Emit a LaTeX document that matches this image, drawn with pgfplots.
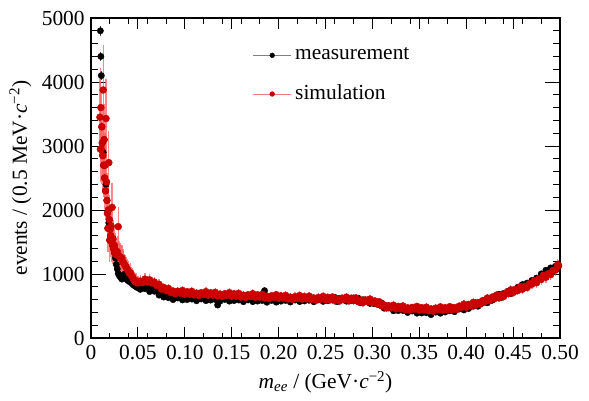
\documentclass[border=0pt]{standalone}
\usepackage{fontspec}
\setmainfont{Liberation Serif}
\usepackage{pgfplots}
\usepackage{pgfplotstable}
\pgfplotsset{compat=1.18}
\definecolor{dotred}{RGB}{204,0,0}
\definecolor{barred}{RGB}{255,95,95}
\definecolor{legred}{RGB}{240,120,120}

\pgfplotstableread{
x y e
0.0100 4800 80
0.0105 4400 75
0.0110 4100 75
0.0115 3300 70
0.0120 3050 65
0.0125 2850 65
0.0130 2900 60
0.0135 2700 60
0.0140 3100 55
0.0145 2500 55
0.0150 2700 55
0.0155 2300 50
0.0160 2400 50
0.0165 2440 50
0.0170 2150 45
0.0175 1950 45
0.0180 1714 45
0.0185 2000 45
0.0190 1800 45
0.0195 1850 40
0.0200 1530 40
0.0210 1600 40
0.0220 1500 40
0.0230 1450 40
0.0240 1400 40
0.0250 1330 35
0.0260 1250 35
0.0270 1150 35
0.0280 1080 35
0.0290 1010 35
0.0300 980 35
0.0310 960 35
0.0320 940 35
0.0330 920 35
0.0340 980 35
0.0350 950 35
0.0360 1000 35
0.0370 930 35
0.0380 960 35
0.0390 900 35
0.0400 920 35
0.0410 880 30
0.0420 900 30
0.0430 860 30
0.0440 870 30
0.0450 830 30
0.0460 850 30
0.0470 810 30
0.0480 830 30
0.0490 790 30
0.0500 810 30
0.0525 760 28
0.0550 815 28
0.0575 770 28
0.0600 800 28
0.0625 725 28
0.0650 765 28
0.0675 730 27
0.0700 740 27
0.0725 670 26
0.0750 690 26
0.0775 640 25
0.0800 665 25
0.0825 630 25
0.0850 668 25
0.0875 600 25
0.0900 647 25
0.0925 625 25
0.0950 648 25
0.0975 595 25
0.1000 632 25
0.1025 600 25
0.1050 644 25
0.1075 608 25
0.1100 648 25
0.1125 582 25
0.1150 631 25
0.1175 610 25
0.1200 635 25
0.1225 584 25
0.1250 623 25
0.1275 592 25
0.1300 636 25
0.1325 601 25
0.1350 515 25
0.1375 574 25
0.1400 623 25
0.1425 603 25
0.1450 627 25
0.1475 576 25
0.1500 615 25
0.1525 585 25
0.1550 629 25
0.1575 593 25
0.1600 632 25
0.1625 567 25
0.1650 616 25
0.1675 595 25
0.1700 619 25
0.1725 568 25
0.1750 608 25
0.1775 577 25
0.1800 621 25
0.1825 585 25
0.1850 740 25
0.1875 559 25
0.1900 608 25
0.1925 587 25
0.1950 612 25
0.1975 561 25
0.2000 600 25
0.2025 576 25
0.2050 621 25
0.2075 587 25
0.2100 627 25
0.2125 562 25
0.2150 613 25
0.2175 593 25
0.2200 618 25
0.2225 569 25
0.2250 609 25
0.2275 579 25
0.2300 625 25
0.2325 590 25
0.2350 630 25
0.2375 566 25
0.2400 616 25
0.2425 596 25
0.2450 622 25
0.2475 572 25
0.2500 612 25
0.2525 583 25
0.2550 628 25
0.2575 593 25
0.2600 634 25
0.2625 569 25
0.2650 619 25
0.2675 600 25
0.2700 625 25
0.2725 575 25
0.2750 614 25
0.2775 583 25
0.2800 627 25
0.2825 585 25
0.2850 621 25
0.2875 552 25
0.2900 598 25
0.2925 574 25
0.2950 595 25
0.2975 540 25
0.3000 575 25
0.3025 535 24
0.3050 566 24
0.3075 518 24
0.3100 544 24
0.3125 466 23
0.3150 502 23
0.3175 469 23
0.3200 480 23
0.3225 425 22
0.3250 461 22
0.3275 428 22
0.3300 469 22
0.3325 430 22
0.3350 467 22
0.3375 398 21
0.3400 444 21
0.3425 421 21
0.3450 442 21
0.3475 388 21
0.3500 425 21
0.3525 391 21
0.3550 432 21
0.3575 394 21
0.3600 430 21
0.3625 365 21
0.3650 419 21
0.3675 404 21
0.3700 433 21
0.3725 387 21
0.3750 431 21
0.3775 406 21
0.3800 455 21
0.3825 425 21
0.3850 471 22
0.3875 411 22
0.3900 467 22
0.3925 453 22
0.3950 484 22
0.3975 439 22
0.4000 485 22
0.4025 460 22
0.4050 518 23
0.4075 496 23
0.4100 549 23
0.4125 496 23
0.4150 559 24
0.4175 552 24
0.4200 590 24
0.4225 550 24
0.4250 605 25
0.4275 589 25
0.4300 649 26
0.4325 628 26
0.4350 683 26
0.4375 632 26
0.4400 697 27
0.4425 691 27
0.4450 731 27
0.4475 695 27
0.4500 750 28
0.4525 730 28
0.4550 794 28
0.4575 777 28
0.4600 836 29
0.4625 789 29
0.4650 858 29
0.4675 856 29
0.4700 900 30
0.4725 870 30
0.4750 936 31
0.4775 931 31
0.4800 1002 32
0.4825 993 32
0.4850 1059 33
0.4875 1019 33
0.4900 1095 33
0.4925 1085 33
0.4950 1120 34
0.4975 1080 34
0.4985 1130 34
}\meas

\pgfplotstableread{
x y e
0.0095 3450 600
0.0100 2950 520
0.0105 3600 620
0.0110 2950 540
0.0115 3300 580
0.0120 3050 560
0.0125 2850 520
0.0130 3875 700
0.0135 2700 500
0.0140 3100 560
0.0145 2500 480
0.0150 2700 500
0.0155 2300 450
0.0160 3430 620
0.0165 2440 470
0.0170 2150 430
0.0175 1950 400
0.0180 1714 370
0.0185 2000 400
0.0190 2740 500
0.0195 1850 380
0.0200 1530 340
0.0205 1700 350
0.0210 1600 330
0.0215 1750 340
0.0220 1500 310
0.0225 2040 380
0.0230 1450 300
0.0235 1550 300
0.0240 1400 280
0.0250 1450 280
0.0255 1330 260
0.0260 1380 260
0.0270 1300 250
0.0280 1350 250
0.0290 1740 300
0.0300 1280 230
0.0310 1260 220
0.0320 1240 210
0.0330 1250 210
0.0340 1190 200
0.0350 1170 190
0.0360 1140 180
0.0370 1120 180
0.0380 1090 170
0.0390 1070 170
0.0400 1040 160
0.0410 1010 150
0.0420 1020 150
0.0430 975 140
0.0440 960 140
0.0450 930 130
0.0460 900 130
0.0470 880 120
0.0480 895 120
0.0490 865 110
0.0500 860 110
0.0525 890 90
0.0550 865 90
0.0575 920 90
0.0600 875 90
0.0625 910 90
0.0650 860 85
0.0675 875 85
0.0700 820 80
0.0725 840 80
0.0750 765 75
0.0775 790 75
0.0800 740 70
0.0825 775 70
0.0850 710 70
0.0875 733 70
0.0900 692 65
0.0925 732 65
0.0950 702 65
0.0975 743 65
0.1000 685 65
0.1025 723 65
0.1050 686 65
0.1075 730 65
0.1100 673 65
0.1125 702 65
0.1150 665 65
0.1175 708 65
0.1200 682 65
0.1225 725 65
0.1250 668 65
0.1275 707 65
0.1300 670 65
0.1325 714 65
0.1350 657 65
0.1375 685 65
0.1400 649 65
0.1425 692 65
0.1450 666 65
0.1475 709 65
0.1500 652 65
0.1525 691 65
0.1550 654 65
0.1575 698 65
0.1600 641 65
0.1625 669 65
0.1650 633 65
0.1675 676 65
0.1700 650 65
0.1725 693 65
0.1750 636 65
0.1775 675 65
0.1800 638 65
0.1825 682 65
0.1850 625 65
0.1875 653 65
0.1900 617 65
0.1925 660 65
0.1950 634 65
0.1975 677 65
0.2000 620 65
0.2025 659 65
0.2050 623 65
0.2075 666 65
0.2100 610 65
0.2125 639 65
0.2150 603 65
0.2175 646 65
0.2200 620 65
0.2225 664 65
0.2250 608 65
0.2275 646 65
0.2300 610 65
0.2325 654 65
0.2350 598 65
0.2375 626 65
0.2400 590 65
0.2425 634 65
0.2450 608 65
0.2475 651 65
0.2500 595 65
0.2525 634 65
0.2550 598 65
0.2575 641 65
0.2600 585 65
0.2625 614 65
0.2650 578 65
0.2675 621 65
0.2700 595 65
0.2725 639 65
0.2750 583 65
0.2775 621 65
0.2800 585 65
0.2825 626 65
0.2850 567 65
0.2875 593 65
0.2900 554 65
0.2925 595 65
0.2950 566 65
0.2975 608 65
0.3000 550 65
0.3025 580 60
0.3050 533 60
0.3075 566 60
0.3100 499 60
0.3125 517 58
0.3150 470 58
0.3175 505 58
0.3200 470 58
0.3225 513 58
0.3250 456 58
0.3275 494 58
0.3300 457 58
0.3325 500 58
0.3350 443 58
0.3375 472 58
0.3400 435 58
0.3425 478 58
0.3450 451 58
0.3475 494 58
0.3500 437 58
0.3525 475 58
0.3550 438 58
0.3575 482 58
0.3600 425 58
0.3625 455 58
0.3650 420 58
0.3675 466 58
0.3700 442 58
0.3725 487 58
0.3750 433 58
0.3775 474 58
0.3800 440 58
0.3825 490 58
0.3850 441 58
0.3875 476 58
0.3900 447 58
0.3925 498 58
0.3950 479 58
0.3975 529 60
0.4000 480 60
0.4025 525 60
0.4050 501 60
0.4075 556 62
0.4100 512 62
0.4125 553 62
0.4150 529 62
0.4175 584 64
0.4200 570 64
0.4225 625 64
0.4250 583 65
0.4275 635 66
0.4300 613 66
0.4325 671 68
0.4350 628 68
0.4375 671 70
0.4400 649 70
0.4425 707 72
0.4450 694 72
0.4475 752 74
0.4500 710 74
0.4525 760 75
0.4550 741 75
0.4575 801 77
0.4600 762 77
0.4625 808 78
0.4650 789 78
0.4675 849 80
0.4700 840 80
0.4725 895 82
0.4750 863 82
0.4775 926 84
0.4800 914 84
0.4825 981 86
0.4850 949 86
0.4875 1002 88
0.4900 990 88
0.4925 1055 90
0.4950 1060 90
0.4975 1145 92
0.4985 1130 92
}\simu

\begin{document}
\fontsize{21.5}{25}\selectfont
\begin{tikzpicture}
\begin{axis}[
  name=ax,
  scale only axis,
  width=469bp, height=320bp,
  xmin=0, xmax=0.5, ymin=0, ymax=5000,
  axis line style={line width=1.3bp},
  tick align=inside,
  tick style={black, line width=0.8bp},
  xtick={0,0.1,0.2,0.3,0.4,0.5},
  xticklabels={},
  minor x tick num=4,
  xtick style={/pgfplots/major tick length=11bp, /pgfplots/minor tick length=5.5bp},
  ytick={0,1000,2000,3000,4000,5000},
  minor y tick num=4,
  ytick style={/pgfplots/major tick length=15bp, /pgfplots/minor tick length=7.5bp},
  extra x ticks={0,0.05,0.1,0.15,0.2,0.25,0.3,0.35,0.4,0.45,0.5},
  extra x tick labels={0,0.05,0.10,0.15,0.20,0.25,0.30,0.35,0.40,0.45,0.50},
  extra x tick style={major tick length=0pt},
  /pgf/number format/assume math mode=true,
  /pgf/number format/1000 sep={},
  tick label style={font=\fontsize{21.5}{25}\selectfont},
  yticklabel style={xshift=1bp},
  label style={font=\fontsize{21.5}{25}\selectfont},
  xlabel={\textit{m}\textsubscript{\textit{ee}} / (GeV·\textit{c}\textsuperscript{−2})},
  ylabel={events / (0.5 MeV·\textit{c}\textsuperscript{−2})},
  ylabel style={yshift=-4bp},
  xlabel style={yshift=3bp},
  legend style={draw=none, fill=none, at={(rel axis cs:0.338,0.925)}, anchor=north west,
    font=\fontsize{21.5}{25}\selectfont, row sep=15bp,
    nodes={inner sep=3.5bp}},
  legend cell align=left,
]
\addplot[only marks, mark=*, mark size=3.2pt, black, forget plot,
  error bars/.cd, y dir=both, y explicit,
  error bar style={line width=0.8bp, black!75}, error mark=none]
  table[x=x, y=y, y error=e] {\meas};
\addplot[only marks, mark=*, mark size=3.5pt, dotred, mark options={draw=dotred, fill=dotred}, forget plot,
  error bars/.cd, y dir=both, y explicit,
  error bar style={line width=1.3bp, barred, opacity=0.75}, error mark=none]
  table[x=x, y=y, y error=e] {\simu};
\addlegendimage{legend image code/.code={
  \draw[gray, line width=0.8bp] (0bp,0bp) -- (38bp,0bp);
  \fill[black] (19bp,0bp) circle (2.4bp);}}
\addlegendentry{measurement}
\addlegendimage{legend image code/.code={
  \draw[legred, line width=1bp] (0bp,0bp) -- (38bp,0bp);
  \fill[dotred] (19bp,0bp) circle (2.4bp);}}
\addlegendentry{simulation}
\end{axis}
\path ([shift={(-91bp,-63bp)}]ax.south west) rectangle ([shift={(29bp,18bp)}]ax.north east);
\end{tikzpicture}
\end{document}
